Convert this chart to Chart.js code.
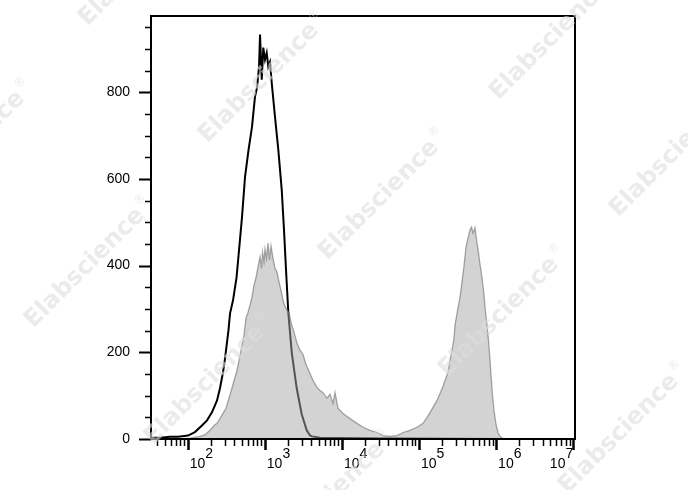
<!DOCTYPE html>
<html>
<head>
<meta charset="utf-8">
<script src="https://cdn.jsdelivr.net/npm/chart.js@4.4.1/dist/chart.umd.min.js"></script>
<style>
	html, body { margin: 0; padding: 0; background: #fff; }
	#histChart { display: block; }
</style>
</head>
<body>
<canvas id="histChart" width="688" height="490"></canvas>
<script>
// isotype control (black outline)
const isoX = [34, 44, 59, 75, 101, 124, 153, 178, 207, 240, 262, 287, 305, 323, 338, 354, 387, 430, 463, 506,
	554, 615, 682, 746, 792, 841, 867, 912, 956, 1006, 1058, 1110, 1168, 1229, 1356, 1497, 1657, 1774, 1884, 2017,
	2233, 2592, 3010, 3495, 3857, 4095, 5197, 17170, 56700, 1123000];
const isoCount = [3, 3, 5, 5, 8, 16, 31, 43, 62, 89, 117, 154, 186, 223, 251, 290, 320, 373, 436, 512,
	605, 667, 720, 790, 810, 859, 933, 829, 903, 875, 891, 859, 870, 822, 743, 667, 575, 482, 390, 292,
	200, 117, 57, 20, 8, 6, 3, 2, 1, 0];

// stained sample (grey filled)
const stainX = [80, 107, 144, 168, 195, 219, 240, 262, 287, 314, 343, 365, 399, 430, 456, 477, 506, 537, 570, 606,
	643, 682, 724, 769, 816, 841, 867, 906, 934, 976, 1006, 1052, 1100, 1151, 1204, 1277, 1356, 1440, 1529, 1622,
	1722, 1828, 1941, 2060, 2187, 2392, 2616, 2861, 3129, 3422, 3857, 4218, 4753, 5197, 5684, 6409, 7008, 7664, 8136, 8898,
	10330, 12740, 15700, 18780, 23140, 28520, 34120, 42060, 51830, 62000, 76410, 94190, 112700, 127000, 138800, 151900,
	171200, 187200, 204800, 217400, 237800, 252300, 267900, 284400, 293100, 311100, 340200, 361200, 383400, 407000,
	432100, 458600, 479600, 501500, 516700, 532400, 565100, 591000, 618200, 656300, 696600, 717800, 762000, 796900,
	833400, 858700, 898100, 939100, 997000, 1058000, 1123000, 1228000, 1515000];
const stainCount = [1, 2, 6, 10, 20, 31, 36, 47, 59, 71, 94, 110, 135, 154, 175, 193, 216, 239, 279, 292,
	309, 327, 355, 372, 397, 409, 420, 394, 431, 409, 438, 417, 452, 413, 445, 417, 394, 385, 362, 343,
	320, 306, 297, 292, 269, 246, 221, 205, 195, 172, 151, 135, 119, 112, 107, 94, 103, 82, 107, 71,
	59, 47, 36, 27, 20, 15, 8, 6, 8, 15, 20, 27, 36, 50, 61, 73,
	89, 105, 121, 135, 154, 182, 205, 232, 262, 290, 327, 362, 399, 443,
	464, 482, 489, 475, 480, 487, 452, 429, 403, 372, 332, 304, 262, 228,
	182, 147, 101, 66, 34, 15, 6, 1, 0];

// axes
const xMin = 33.4;
const xMax = 1.055e7;
const yMax = 976;
const yTicks = [0, 200, 400, 600, 800];
const xTickExponents = ['2', '3', '4', '5', '6', '7'];

// watermark centres
const marks = [[139, -34], [259, 83], [379, 200], [499, 317], [619, 434],
	[550, 40], [670, 157], [-35, 151], [85, 268], [205, 385], [325, 502]];

const labelFont = '14px "Liberation Sans", Arial, sans-serif';

const axisFrame = {
	id: 'axisFrame',
	afterDraw(chart) {
		const { ctx, chartArea: a, scales: { x, y } } = chart;
		ctx.save();
		ctx.strokeStyle = '#000';
		ctx.lineCap = 'butt';

		// y ticks, minor every 50
		for (let v = 0; v <= yMax; v += 50) {
			const py = Math.round(y.getPixelForValue(v)) + 0.5;
			const major = yTicks.includes(v);
			ctx.lineWidth = major ? 2 : 1.5;
			ctx.beginPath();
			ctx.moveTo(a.left - (major ? 12 : 6), py);
			ctx.lineTo(a.left, py);
			ctx.stroke();
		}

		// x ticks, decades and 2..9
		for (let e = 1; e <= 7; e++) {
			for (let m = 1; m <= 9; m++) {
				const v = m * Math.pow(10, e);
				if (v < xMin || v > xMax) continue;
				const px = Math.round(x.getPixelForValue(v)) + 0.5;
				const major = m === 1;
				ctx.lineWidth = major ? 2.5 : 1.5;
				ctx.beginPath();
				ctx.moveTo(px, a.bottom);
				ctx.lineTo(px, a.bottom + (major ? 11 : 7));
				ctx.stroke();
			}
		}

		// frame
		ctx.lineWidth = 2;
		ctx.strokeRect(a.left, a.top, a.right - a.left, a.bottom - a.top);

		// x labels 10^n
		ctx.fillStyle = '#000';
		ctx.font = labelFont;
		ctx.textAlign = 'left';
		ctx.textBaseline = 'alphabetic';
		xTickExponents.forEach((ex, i) => {
			const px = x.getPixelForValue(Math.pow(10, Number(ex)));
			const w = ctx.measureText('10').width;
			const ew = ctx.measureText(ex).width;
			const left = i === xTickExponents.length - 1 ? px - w - ew : px + 2;
			ctx.fillText('10', left, 468);
			ctx.fillText(ex, left + w, 458);
		});

		// watermark
		ctx.fillStyle = 'rgba(222,222,222,0.6)';
		ctx.textBaseline = 'middle';
		marks.forEach(([cx, cy]) => {
			ctx.save();
			ctx.translate(cx, cy);
			ctx.rotate(-Math.PI / 4);
			ctx.font = 'bold 24px "DejaVu Sans", sans-serif';
			ctx.textAlign = 'center';
			const w = ctx.measureText('Elabscience').width;
			ctx.fillText('Elabscience', 0, 0);
			ctx.font = '12px "DejaVu Sans", sans-serif';
			ctx.textAlign = 'left';
			ctx.fillText('®', w / 2 + 2, -9);
			ctx.restore();
		});
		ctx.restore();
	}
};

const ctx = document.getElementById('histChart');
new Chart(ctx, {
	type: 'line',
	data: {
		datasets: [
			{
				label: 'Sample',
				data: stainX.map((v, i) => ({ x: v, y: stainCount[i] })),
				fill: 'origin',
				backgroundColor: 'rgba(168,168,168,0.5)',
				borderColor: 'rgba(110,110,110,0.6)',
				borderWidth: 1.3,
				pointRadius: 0,
				tension: 0,
				order: 1,
			},
			{
				label: 'Control',
				data: isoX.map((v, i) => ({ x: v, y: isoCount[i] })),
				fill: false,
				borderColor: '#000',
				borderWidth: 2,
				pointRadius: 0,
				tension: 0,
				order: 2,
			}
		]
	},
	options: {
		responsive: false,
		animation: false,
		layout: { padding: { left: 0, right: 113, top: 16, bottom: 0 } },
		plugins: {
			legend: { display: false },
			title: { display: false },
			tooltip: { enabled: false },
		},
		scales: {
			x: {
				type: 'logarithmic',
				min: xMin,
				max: xMax,
				grid: { display: false, drawTicks: false },
				border: { display: false },
				ticks: { display: false },
				afterFit: (s) => { s.height = 51; s.paddingLeft = 0; s.paddingRight = 0; },
			},
			y: {
				min: 0,
				max: yMax,
				grid: { display: false, drawTicks: false },
				border: { display: false },
				afterBuildTicks: (s) => { s.ticks = yTicks.map(v => ({ value: v })); },
				ticks: {
					color: '#000',
					font: { family: '"Liberation Sans", Arial, sans-serif', size: 14 },
					padding: 21,
				},
				afterFit: (s) => { s.width = 151; s.paddingTop = 0; s.paddingBottom = 0; },
			}
		}
	},
	plugins: [axisFrame]
});
</script>
</body>
</html>
